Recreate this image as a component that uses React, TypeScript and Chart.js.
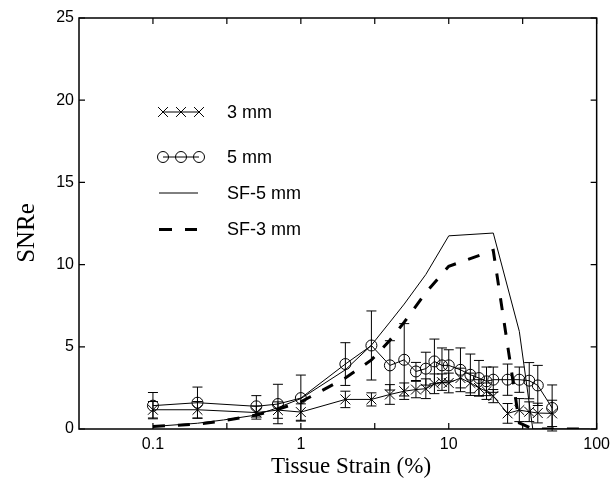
import React, { useEffect, useRef } from "react";
import { Chart, registerables } from "chart.js";

Chart.register(...registerables);

// ---- data ----
const xTickValues = [0.1, 1, 10, 100];
const xMinorTicks = [0.316, 3.16, 31.6];
const yTickValues = [0, 5, 10, 15, 20, 25];

const xPoints = [0.1, 0.2, 0.5, 0.7, 1, 2, 3, 4, 5, 6, 7, 8, 9, 10, 12, 14, 16, 18, 20, 25, 30, 35, 40, 50];

const y3mm = [1.17, 1.17, 1.0, 1.15, 1.03, 1.8, 1.8, 2.1, 2.3, 2.4, 2.45, 2.75, 2.85, 2.8, 3.1, 2.8, 2.5, 2.3, 2.0, 0.95, 1.15, 1.05, 0.97, 0.95];
const e3mm = [0.5, 0.5, 0.4, 0.5, 0.5, 0.5, 0.4, 0.6, 0.5, 0.5, 0.6, 0.6, 0.5, 0.6, 0.6, 0.6, 0.5, 0.5, 0.4, 0.6, 0.7, 0.6, 0.6, 0.8];

const y5mm = [1.42, 1.6, 1.38, 1.52, 1.88, 3.95, 5.08, 3.87, 4.21, 3.5, 3.67, 4.11, 3.87, 3.87, 3.6, 3.3, 3.1, 2.9, 3.0, 3.0, 3.0, 2.94, 2.65, 1.28];
const e5mm = [0.8, 0.95, 0.65, 1.2, 1.4, 1.3, 2.1, 1.5, 2.2, 0.55, 1.0, 1.36, 1.06, 0.95, 1.33, 1.26, 1.07, 0.87, 0.77, 0.95, 0.77, 1.1, 1.22, 1.4];

const xSF5 = [0.1, 0.2, 0.3, 0.5, 0.7, 1, 2, 3, 4, 5, 7, 10, 20, 30, 37, 50, 90];
const ySF5 = [0.15, 0.35, 0.55, 0.85, 1.3, 1.85, 3.6, 5.1, 6.5, 7.6, 9.4, 11.75, 11.92, 5.94, 0, 0, 0];

const xSF3 = [0.1, 0.2, 0.3, 0.5, 0.7, 1, 2, 3, 4, 5, 7, 10, 20, 30, 37, 90];
const ySF3 = [0.15, 0.3, 0.5, 0.85, 1.2, 1.65, 3.1, 4.2, 5.4, 6.5, 8.3, 9.9, 10.86, 0.37, 0, 0];

const seriesLabels = ["3 mm", "5 mm", "SF-5 mm", "SF-3 mm"];
const xTitle = "Tissue Strain (%)";
const yTitle = "SNRe";

// ---- styles ----
const SANS = "'Liberation Sans', Arial, sans-serif";
const SERIF = "'Liberation Serif', 'Times New Roman', serif";

function drawX(ctx: CanvasRenderingContext2D, x: number, y: number, r: number) {
  const o = r * Math.SQRT1_2;
  ctx.beginPath();
  ctx.moveTo(x - o, y - o);
  ctx.lineTo(x + o, y + o);
  ctx.moveTo(x + o, y - o);
  ctx.lineTo(x - o, y + o);
  ctx.stroke();
}

const errorBarPlugin = {
  id: "errorBars",
  afterDatasetsDraw(chart: any) {
    const ctx = chart.ctx;
    const yScale = chart.scales.y;
    ctx.save();
    ctx.strokeStyle = "#000";
    ctx.lineWidth = 1;
    chart.data.datasets.forEach((ds: any, di: number) => {
      if (!ds.errors) return;
      const meta = chart.getDatasetMeta(di);
      meta.data.forEach((pt: any, i: number) => {
        const v = ds.data[i].y;
        const e = ds.errors[i];
        const yTop = yScale.getPixelForValue(v + e);
        const yBot = yScale.getPixelForValue(v - e);
        const x = pt.x;
        ctx.beginPath();
        ctx.moveTo(x, yTop);
        ctx.lineTo(x, yBot);
        ctx.moveTo(x - 5, yTop);
        ctx.lineTo(x + 5, yTop);
        ctx.moveTo(x - 5, yBot);
        ctx.lineTo(x + 5, yBot);
        ctx.stroke();
      });
    });
    ctx.restore();
  },
};

const framePlugin = {
  id: "frameTicks",
  afterDraw(chart: any) {
    const ctx = chart.ctx;
    const { left, right, top, bottom } = chart.chartArea;
    const xs = chart.scales.x;
    const ys = chart.scales.y;
    ctx.save();
    ctx.strokeStyle = "#000";
    ctx.lineWidth = 1.5;
    ctx.strokeRect(left, top, right - left, bottom - top);
    ctx.lineWidth = 1.2;
    const tl = 6;
    ctx.beginPath();
    [...xTickValues, ...xMinorTicks].forEach((v) => {
      const px = xs.getPixelForValue(v);
      ctx.moveTo(px, bottom);
      ctx.lineTo(px, bottom - tl);
      ctx.moveTo(px, top);
      ctx.lineTo(px, top + tl);
    });
    yTickValues.forEach((v) => {
      const py = ys.getPixelForValue(v);
      ctx.moveTo(left, py);
      ctx.lineTo(left + tl, py);
      ctx.moveTo(right, py);
      ctx.lineTo(right - tl, py);
    });
    ctx.stroke();

    // axis titles
    ctx.fillStyle = "#000";
    ctx.textAlign = "center";
    ctx.textBaseline = "middle";
    ctx.font = `23px ${SERIF}`;
    ctx.fillText(xTitle, 351, 467);
    ctx.save();
    ctx.translate(27, 233);
    ctx.rotate(-Math.PI / 2);
    ctx.font = `25px ${SERIF}`;
    ctx.fillText(yTitle, 0, 0);
    ctx.restore();

    // legend
    ctx.lineWidth = 1;
    const rows = [112, 157, 193, 229.5];
    const mx = [163, 181, 199];
    // 3 mm
    ctx.beginPath();
    ctx.moveTo(mx[0], rows[0]);
    ctx.lineTo(mx[2], rows[0]);
    ctx.stroke();
    mx.forEach((x) => drawX(ctx, x, rows[0], 7));
    // 5 mm
    ctx.beginPath();
    ctx.moveTo(mx[0], rows[1]);
    ctx.lineTo(mx[2], rows[1]);
    ctx.stroke();
    mx.forEach((x) => {
      ctx.beginPath();
      ctx.arc(x, rows[1], 5.5, 0, Math.PI * 2);
      ctx.stroke();
    });
    // SF-5
    ctx.beginPath();
    ctx.moveTo(159, rows[2]);
    ctx.lineTo(198, rows[2]);
    ctx.stroke();
    // SF-3
    ctx.lineWidth = 3;
    ctx.beginPath();
    ctx.moveTo(159, rows[3]);
    ctx.lineTo(172, rows[3]);
    ctx.moveTo(185, rows[3]);
    ctx.lineTo(197, rows[3]);
    ctx.stroke();

    ctx.font = `18px ${SANS}`;
    ctx.textAlign = "left";
    seriesLabels.forEach((t, i) => ctx.fillText(t, 227, rows[i] + 1));
    ctx.restore();
  },
};

export default function App() {
  const ref = useRef<HTMLCanvasElement>(null);
  useEffect(() => {
    if (!ref.current) return;
    const tickFont = { family: SANS, size: 16 };
    const chart = new Chart(ref.current, {
      type: "line",
      data: {
        datasets: [
          {
            label: seriesLabels[0],
            data: xPoints.map((x, i) => ({ x, y: y3mm[i] })),
            borderColor: "#000",
            borderWidth: 1,
            pointStyle: "crossRot",
            pointRadius: 7,
            pointBorderWidth: 1,
            pointBorderColor: "#000",
            pointBackgroundColor: "rgba(0,0,0,0)",
            errors: e3mm,
          } as any,
          {
            label: seriesLabels[1],
            data: xPoints.map((x, i) => ({ x, y: y5mm[i] })),
            borderColor: "#000",
            borderWidth: 1,
            pointStyle: "circle",
            pointRadius: 5.5,
            pointBorderWidth: 1,
            pointBorderColor: "#000",
            pointBackgroundColor: "rgba(0,0,0,0)",
            errors: e5mm,
          } as any,
          {
            label: seriesLabels[2],
            data: xSF5.map((x, i) => ({ x, y: ySF5[i] })),
            borderColor: "#000",
            borderWidth: 1,
            pointRadius: 0,
          },
          {
            label: seriesLabels[3],
            data: xSF3.map((x, i) => ({ x, y: ySF3[i] })),
            borderColor: "#000",
            borderWidth: 3,
            borderDash: [12, 13],
            pointRadius: 0,
          },
        ],
      },
      options: {
        responsive: false,
        animation: false,
        events: [],
        layout: { padding: { top: 18, right: 17, left: 0, bottom: 0 } },
        plugins: { legend: { display: false }, tooltip: { enabled: false } },
        elements: { line: { tension: 0 } },
        scales: {
          x: {
            type: "logarithmic",
            min: Math.pow(10, -1.5),
            max: 100,
            grid: { display: false, drawTicks: false },
            border: { display: false },
            ticks: {
              font: tickFont,
              color: "#000",
              padding: 6,
              autoSkip: false,
              maxRotation: 0,
              callback: (v: any) => String(v),
            },
            afterBuildTicks: (s: any) => {
              s.ticks = xTickValues.map((v) => ({ value: v }));
            },
            afterFit: (s: any) => {
              s.height = 67;
            },
          },
          y: {
            min: 0,
            max: 25,
            grid: { display: false, drawTicks: false },
            border: { display: false },
            ticks: { font: tickFont, color: "#000", padding: 5, stepSize: 5 },
            afterBuildTicks: (s: any) => {
              s.ticks = yTickValues.map((v) => ({ value: v }));
            },
            afterFit: (s: any) => {
              s.width = 79;
            },
          },
        },
      },
      plugins: [errorBarPlugin, framePlugin],
    });
    return () => chart.destroy();
  }, []);
  return (
    <div style={{ position: "fixed", left: 0, top: 0, width: 616, height: 496, background: "#fff" }}>
      <canvas ref={ref} width={616} height={496} style={{ display: "block", width: 616, height: 496 }} />
    </div>
  );
}
